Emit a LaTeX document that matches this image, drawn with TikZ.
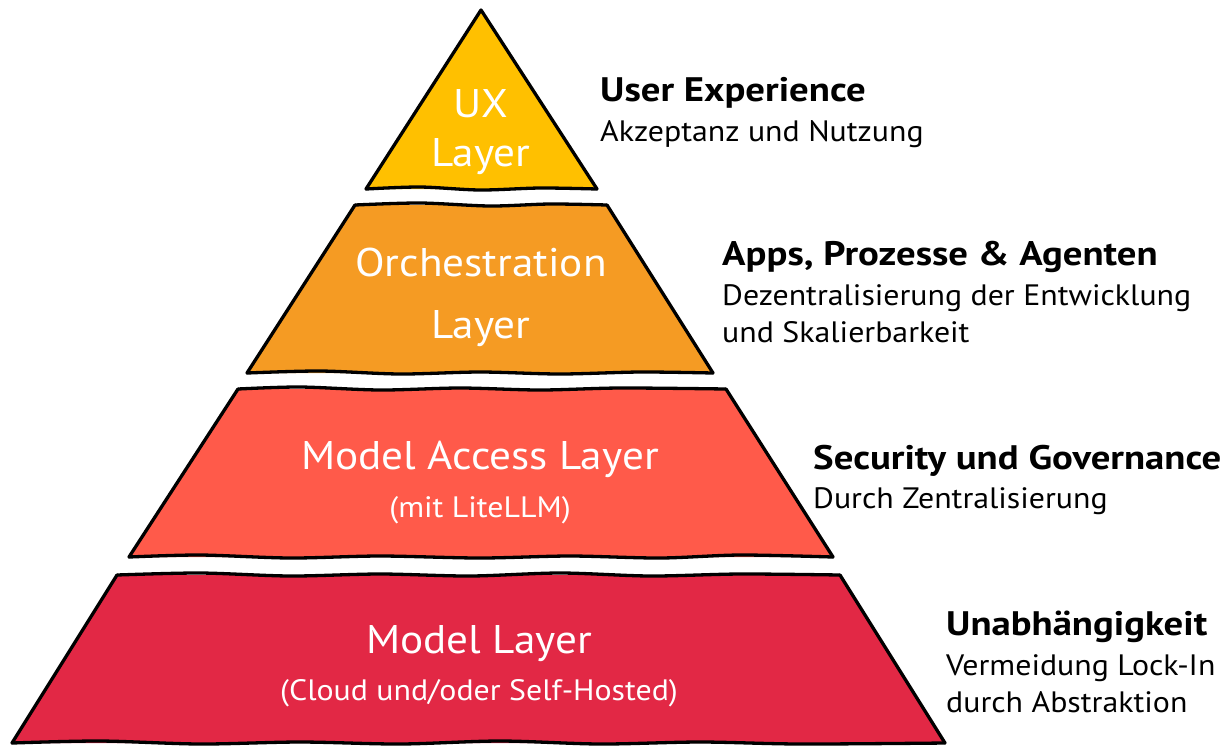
\documentclass[tikz,border=0pt]{standalone}
\usepackage{fontspec}
\setmainfont{PT Sans}[FakeStretch=1.08]
\newfontfamily\headfont{PT Sans}[FakeStretch=1.14]
\definecolor{cux}{HTML}{FFC000}
\definecolor{corch}{HTML}{F59B23}
\definecolor{cacc}{HTML}{FF5A4A}
\definecolor{cmod}{HTML}{E22845}
\begin{document}
\begin{tikzpicture}[x=1pt,y=-1pt,
  outline/.style={draw=black,line width=3.3pt,line join=round,line cap=round},
  inlabel/.style={text=white,anchor=base,inner sep=0pt,font=\fontsize{40}{42}\selectfont},
  insub/.style={text=white,anchor=base,inner sep=0pt,font=\fontsize{29.5}{31}\selectfont},
  rhead/.style={anchor=base west,inner sep=0pt,font=\headfont\fontsize{34}{36}\selectfont\bfseries},
  rtext/.style={anchor=base west,inner sep=0pt,font=\fontsize{29.5}{31}\selectfont}]
\useasboundingbox (0,0) rectangle (1230,748);
% UX layer
\fill[cux] (481,10) -- (597,189) -- (366,189) -- cycle;
\draw[outline] (366,189) -- (481,10) -- (597,189);
\draw[outline] plot[smooth] coordinates {(366,189) (420,187) (480,190) (540,188) (597,189)};
% Orchestration layer
\fill[corch] (355,205) -- (607,205) -- (713,373) -- (247,373) -- cycle;
\draw[outline] (247,373) -- (355,205);
\draw[outline] (607,205) -- (713,373);
\draw[outline] plot[smooth] coordinates {(355,205) (420,203) (490,206) (550,204) (607,205)};
\draw[outline] plot[smooth] coordinates {(247,373) (320,371) (400,374) (480,372) (560,374) (640,372) (713,373)};
% Model access layer
\fill[cacc] (238,389) -- (726,389) -- (833,557) -- (129,557) -- cycle;
\draw[outline] (129,557) -- (238,389);
\draw[outline] (726,389) -- (833,557);
\draw[outline] plot[smooth] coordinates {(238,389) (300,387) (380,390) (460,388) (540,390) (620,388) (726,389)};
\draw[outline] plot[smooth] coordinates {(129,557) (200,555) (290,558) (380,556) (480,558) (570,556) (660,558) (740,555) (833,557)};
% Model layer
\fill[cmod] (117,575) -- (840,575) -- (945,743) -- (12,743) -- cycle;
\draw[outline] (12,743) -- (117,575);
\draw[outline] (840,575) -- (945,743);
\draw[outline] plot[smooth] coordinates {(117,575) (200,573) (290,576) (380,574) (470,576) (560,573) (650,576) (740,574) (840,575)};
\draw[outline] plot[smooth] coordinates {(12,743) (100,741) (200,744) (300,742) (400,744) (500,741) (600,744) (700,742) (800,744) (945,743)};
% inner labels
\node[inlabel] (ux1) at (481,117) {UX};
\node[inlabel] (ux2) at (481,166) {Layer};
\node[inlabel] (or1) at (481,276) {Orchestration};
\node[inlabel] (or2) at (481,338) {Layer};
\node[inlabel] (ac1) at (480,469) {Model Access Layer};
\node[insub] (ac2) at (480,517) {(mit LiteLLM)};
\node[inlabel] (mo1) at (479,653) {Model Layer};
\node[insub] (mo2) at (479,700) {(Cloud und/oder Self-Hosted)};
% right labels
\node[rhead] (h1) at (600,101) {User Experience};
\node[rtext] (t1) at (600,141) {Akzeptanz und Nutzung};
\node[rhead] (h2) at (722,265) {Apps, Prozesse \& Agenten};
\node[rtext] (t2a) at (722,305) {Dezentralisierung der Entwicklung};
\node[rtext] (t2b) at (722,342) {und Skalierbarkeit};
\node[rhead] (h3) at (813,469) {Security und Governance};
\node[rtext] (t3) at (813,508) {Durch Zentralisierung};
\node[rhead] (h4) at (946,635) {Unabhängigkeit};
\node[rtext] (t4a) at (946,675) {Vermeidung Lock-In};
\node[rtext] (t4b) at (946,712) {durch Abstraktion};
\end{tikzpicture}
\end{document}
